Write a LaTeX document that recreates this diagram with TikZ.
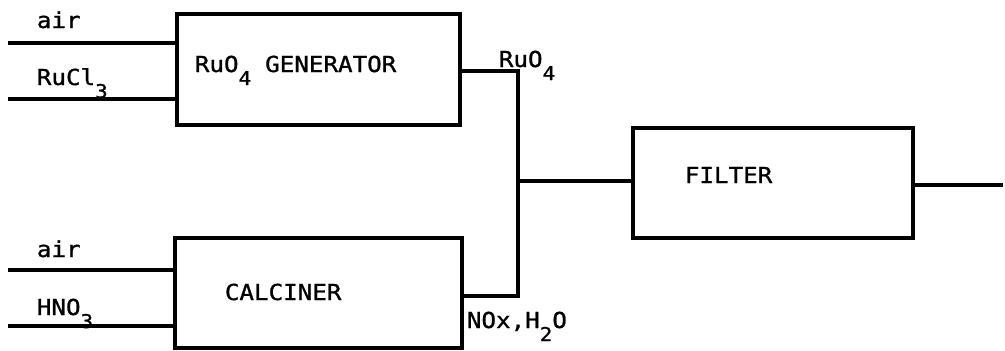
\documentclass[tikz,border=0pt]{standalone}
\usepackage{fontspec}
\newfontfamily\plotfont[FakeStretch=1.1,FakeBold=1.2]{DejaVu Sans Mono}
\newcommand{\lowsub}[1]{\raisebox{-13pt}{\fontsize{19}{20}\selectfont #1}}
\begin{document}
\begin{tikzpicture}[x=1pt,y=-1pt,line width=3.8pt,
  box/.style={draw,line width=3.8pt,inner sep=0pt},
  lbl/.style={anchor=base west,inner sep=0pt,font=\plotfont\fontsize{22}{24}\selectfont}]
\useasboundingbox (0,0) rectangle (1005,351);
% boxes
\node[box,minimum width=283pt,minimum height=111pt] (gen) at (318.5,69.5) {};
\node[box,minimum width=287pt,minimum height=110pt] (calc) at (318.5,293) {};
\node[box,minimum width=280pt,minimum height=110pt] (filter) at (773,183) {};
% texts
\node[lbl] (tgen) at (193,72) {RuO\lowsub{4}\hspace{14pt}GENERATOR};
\node[lbl] (tcalc) at (223,300) {CALCINER};
\node[lbl] (tfil) at (683,183) {FILTER};
\node[lbl] (lair1) at (35,28) {air};
\node[lbl] (lrucl) at (35,85) {RuCl\lowsub{3}};
\node[lbl] (lair2) at (35,257) {air};
\node[lbl] (lhno) at (35,315) {HNO\lowsub{3}};
\node[lbl] (lruo) at (497,67) {RuO\lowsub{4}};
\node[lbl] (lnox) at (465,328) {NOx,H\lowsub{2}O};
% connector points
\coordinate (in1) at (8,43);
\coordinate (in2) at (8,99);
\coordinate (in3) at (8,270);
\coordinate (in4) at (8,326);
\coordinate (j1) at (518,71);
\coordinate (j2) at (518,296);
\coordinate (j) at (518,181);
\coordinate (out) at (1003,185);
% connectors
\draw (in1) -- (in1 -| gen.west);
\draw (in2) -- (in2 -| gen.west);
\draw (in3) -- (in3 -| calc.west);
\draw (in4) -- (in4 -| calc.west);
\draw (gen.east |- j1) -- (j1) -- (j2) -- (calc.east |- j2);
\draw (j) -- (filter.west |- j);
\draw (filter.east |- out) -- (out);
\end{tikzpicture}
\end{document}
